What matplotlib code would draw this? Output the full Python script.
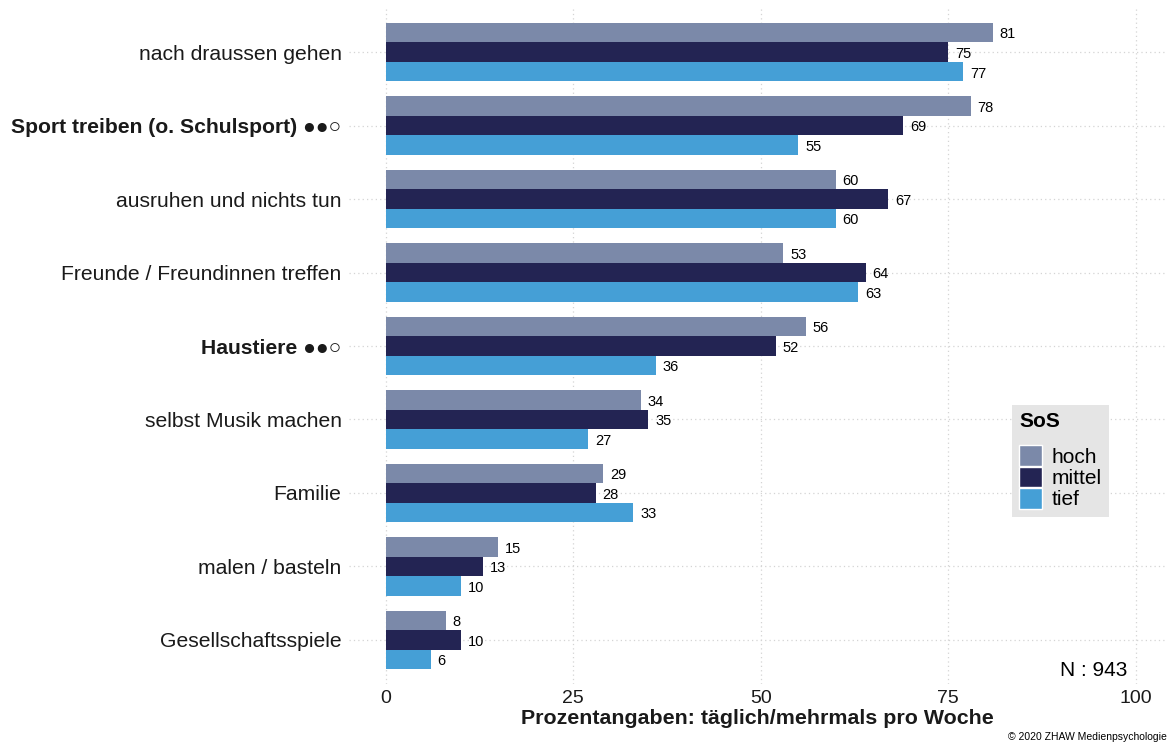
import numpy as np
import matplotlib
matplotlib.use("Agg")
import matplotlib.pyplot as plt
from matplotlib.patches import Patch

plt.rcParams['font.family'] = ['Liberation Sans', 'DejaVu Sans']

# data (top to bottom)
categories = ["nach draussen gehen", "Sport treiben (o. Schulsport) ●●○",
              "ausruhen und nichts tun", "Freunde / Freundinnen treffen",
              "Haustiere ●●○", "selbst Musik machen", "Familie",
              "malen / basteln", "Gesellschaftsspiele"]
bold_cats = ["Sport treiben (o. Schulsport) ●●○", "Haustiere ●●○"]
groups = ["hoch", "mittel", "tief"]
hoch = [81, 78, 60, 53, 56, 34, 29, 15, 8]
mittel = [75, 69, 67, 64, 52, 35, 28, 13, 10]
tief = [77, 55, 60, 63, 36, 27, 33, 10, 6]
colors = ["#7b89a9", "#232453", "#459fd6"]
n_total = 943

W, H = 1167, 743
fig = plt.figure(figsize=(W / 100, H / 100), dpi=100)
ax = fig.add_axes([348.5 / W, 1 - 684 / H, (W - 348.5) / W, (684 - 8) / H])

y = np.arange(len(categories))
bh = 0.8 / 3
for i, (vals, col) in enumerate(zip([hoch, mittel, tief], colors)):
    pos = y - 0.4 + bh * (i + 0.5)
    ax.barh(pos, vals, height=bh, color=col, zorder=2)
    for p, v in zip(pos, vals):
        ax.text(v + 0.9, p + 0.025, str(v), va='center', ha='left', fontsize=10.5,
                color='black', zorder=3)

ax.set_xlim(-5, 104.2)
ax.set_ylim(len(categories) - 0.4, -0.6)
ax.set_xticks([0, 25, 50, 75, 100])
ax.set_yticks(y)
ax.set_yticklabels(categories, fontsize=15.2, color='#333333')
for lab in ax.get_yticklabels():
    if lab.get_text() in bold_cats:
        lab.set_fontweight('bold')
for lab in ax.get_xticklabels():
    lab.set_fontsize(14)
ax.tick_params(axis='both', length=0, pad=5, colors='#1a1a1a')
ax.tick_params(axis='x', pad=4)
ax.grid(True, color='#d4d4d4', linestyle=(0, (1, 2.5)), linewidth=0.9, zorder=0)
for s in ax.spines.values():
    s.set_visible(False)

ax.set_xlabel("Prozentangaben: täglich/mehrmals pro Woche", fontsize=15.4,
              fontweight='bold', color='#1a1a1a', labelpad=2)

ax.text(98.9, 8.42, "N : %d" % n_total, ha='right', va='center', fontsize=15)

fig.text(1008 / W, 1 - 737 / H, "© 2020 ZHAW Medienpsychologie", ha='left',
         va='center', fontsize=7.5)

handles = [Patch(facecolor=c, edgecolor='white', linewidth=1) for c in colors]
leg = fig.legend(handles, groups, loc='upper left',
                 bbox_to_anchor=(1012 / W, 1 - 405 / H), borderaxespad=0,
                 title="SoS", fontsize=15, handlelength=1.1, handleheight=1.15,
                 labelspacing=0.0, handletextpad=0.45, borderpad=0.35,
                 fancybox=False, frameon=True, facecolor='#e5e5e5',
                 edgecolor='none', framealpha=1)
leg.get_title().set_fontweight('bold')
leg.get_title().set_fontsize(15)
leg._legend_box.align = "left"
leg._legend_box.sep = 10

fig.savefig("out.png", dpi=100, facecolor='white')
